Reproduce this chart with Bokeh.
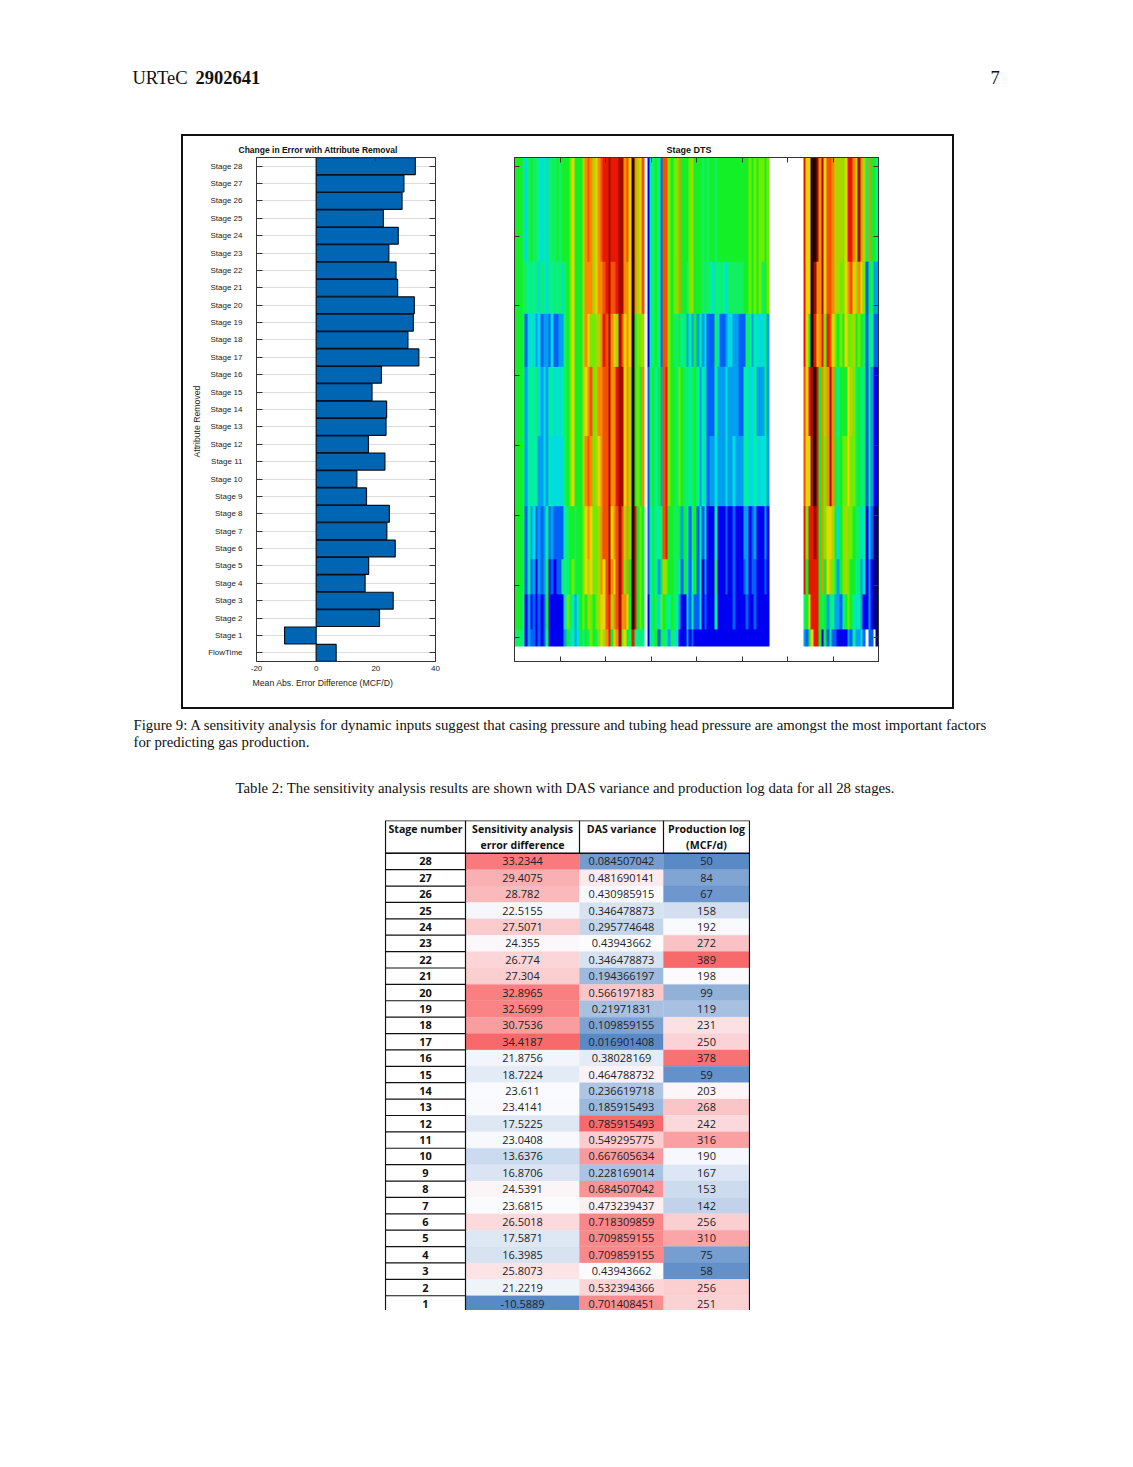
from bokeh.embed import file_html
from bokeh.resources import INLINE
from bokeh.plotting import figure
from bokeh.layouts import column, row
from bokeh.models import (Range1d, FactorRange, LinearAxis, CategoricalAxis, FixedTicker,
                          LinearColorMapper, ColumnDataSource, Title)
from bokeh.core.properties import value
import numpy as np

# ---------- data ----------
stages = list(range(28, 0, -1))
sensitivity = [33.2344, 29.4075, 28.782, 22.5155, 27.5071, 24.355, 26.774, 27.304, 32.8965, 32.5699,
               30.7536, 34.4187, 21.8756, 18.7224, 23.611, 23.4141, 17.5225, 23.0408, 13.6376, 16.8706,
               24.5391, 23.6815, 26.5018, 17.5871, 16.3985, 25.8073, 21.2219, -10.5889]
das_variance = [0.084507042, 0.481690141, 0.430985915, 0.346478873, 0.295774648, 0.43943662, 0.346478873,
                0.194366197, 0.566197183, 0.21971831, 0.109859155, 0.016901408, 0.38028169, 0.464788732,
                0.236619718, 0.185915493, 0.785915493, 0.549295775, 0.667605634, 0.228169014, 0.684507042,
                0.473239437, 0.718309859, 0.709859155, 0.709859155, 0.43943662, 0.532394366, 0.701408451]
production = [50, 84, 67, 158, 192, 272, 389, 198, 99, 119, 231, 250, 378, 59, 203, 268, 242, 316, 190, 167,
              153, 142, 256, 310, 75, 58, 256, 251]
flow_time = 6.7

bar_categories = ["FlowTime"] + [f"Stage {s}" for s in stages[::-1]]
bar_values = [flow_time] + sensitivity[::-1]

# DTS stripes, one letter per depth column (a = coldest ... p = hottest, w = no data)
band_rows = {"A": 6, "B": 3, "C": 3, "D": 4, "E": 4, "F": 3, "G": 2, "H": 2, "I": 1}
band_A = "hhhgeghggf efeggghghh hikhhhjlml jklmnnonnn oolmkpljkm wbfghfcmmi hiilhhhijh hhghghhghh hhhhhhhhhh ihihiihiww wwwwwwwwww wnkkppolok mmljjjiknn ljoljglhhf"
band_B = "hhhggfgfge gfegfgfgeg hikhhhjlll jkllmnommn oollkpljkm wbfghfcmmi hiilhhgijh hhgggfegfg fegggggghh ihihighiww wwwwwwwwww wnkkpollok mmljjiiklm kjlkichgdd"
band_C = "hhhgcefede cddceccddg hikhhhjlki ijjlnmolkj omklkphiij wbfghfcmmi hgghfgdfdh dfdecccgec cdeeddcccg fdfeeegdww wwwwwwwwww wnkhpnklni nmkihihkii jhihgcgfcc"
band_D = "hhhgdfffge dedffefefg hikhhhjklm ijllmmolln ookljphihl wcghfhdmni hhgihggfgh fdfecccfdd deddddccff eefdddgdww wwwwwwwwww wmknopnhlj lolhfhhhkj ighfgcgdbb"
band_E = "hhhgdffffd dedfeeeeeg hikhhhjlml ijklmmolln ookljphihl wcghfhdmni hhgihggfgh fdfecddedd deddedddff eefeeefdww wwwwwwwwww wmkkopnhli lolhghiiki ighfgcgdbb"
band_F = "hhhgcfdecd cdfcdccccf ghhghhiklk iijlmmoklm omjlipnhih wcfhffgmnh hgghdhfcgh cfcebbbfbb bcbbcbbbdd bcdbbbdbww wwwwwwwwww wninnonhli kkjhehijii hggefbecaa"
band_G = "hhhgcfcdbd cdgbcbccgf ghighhikjk iijlkmolkm omilhpnhih wcfhfdhjih hggfchecfh cfbdbbbgbb bcbbcbbbcd bccbbbcbww wwwwwwwwww wnhnnnnhlh kjigdhijih hfgdebdbaa"
band_H = "hhhfbdbcbc bchbbbbbbe igfdfhihji hijkkmnjlm ollkhpnhih wbfhgeihgf hgfdbbecfc cebcbbbfbb bbbbcbbbbc bbcbbbbbww wwwwwwwwww wghknnnhgh dgfddcfhih fefdbbdbaa"
band_I = "gggfbdccbc bcgbbbbbbd hefdehfhgi hgikjlnhkl oikhgngfgf wbfghchgfd gfebbbdbcb bbbbbbbbbb bbbbbbbbbb bbbbbbbbww wwwwwwwwww wdchknnhbh cfccbbbbdc fddecwccwa"
bands = {"A": band_A, "B": band_B, "C": band_C, "D": band_D, "E": band_E, "F": band_F, "G": band_G, "H": band_H, "I": band_I}
jet = ["#00007f", "#0000f0", "#0060f8", "#00a0f0", "#00dce0", "#00f0a0", "#10f060", "#14f028",
       "#70ec00", "#b0d400", "#ecd400", "#f88c00", "#f45000", "#e81800", "#a00c00", "#280000"]
levels = "abcdefghijklmnop"

# ---------- helpers ----------
def scale_colour(values):
    """Excel's blue-white-red three colour scale, midpoint at the median."""
    lo, mid, hi = min(values), float(np.median(values)), max(values)
    c_lo, c_mid, c_hi = (0x5A, 0x8A, 0xC6), (0xFC, 0xFC, 0xFF), (0xF8, 0x69, 0x6B)
    out = []
    for v in values:
        if v < mid:
            t, a, b = (v - lo) / (mid - lo), c_lo, c_mid
        else:
            t, a, b = (v - mid) / (hi - mid), c_mid, c_hi
        out.append("#%02x%02x%02x" % tuple(int(round(a[i] + (b[i] - a[i]) * t)) for i in range(3)))
    return out

SERIF = value("Liberation Serif")
OPEN = value("Open Sans")

def text_strip(top, bottom):
    """A blank figure of the full text width whose data coordinates are page pixels."""
    f = figure(width=1117, height=bottom - top, x_range=Range1d(8, 1125), y_range=Range1d(bottom, top),
               output_backend="svg", toolbar_location=None, min_border=0, outline_line_color=None,
               x_axis_location=None, y_axis_location=None)
    f.grid.visible = False
    return f

def txt(f, x, y, s, size, style="normal"):
    f.text(x=[x], y=[y], text=[s], text_font=SERIF, text_font_size=f"{size}px", text_font_style=style,
           text_align="left", text_baseline="middle", text_color="#111111")

def note(f, place, s, offset, size, standoff=0, style="normal", color="#222222"):
    f.add_layout(Title(text=s, align="left", offset=offset, standoff=standoff, text_font="Liberation Sans",
                       text_font_size=f"{size}px", text_font_style=style, text_color=color), place)

# ---------- page head ----------
head = text_strip(8, 134)
txt(head, 132, 77, "URTeC", 18.5)
txt(head, 195, 77, "2902641", 18.5, style="bold")
txt(head, 990, 77, "7", 18.5)

# ---------- bar chart ----------
bar = figure(width=319, height=571, x_range=Range1d(-20, 40),
             y_range=FactorRange(*bar_categories, range_padding=0, factor_padding=0),
             output_backend="svg", toolbar_location=None, min_border_left=73, min_border_right=67,
             min_border_top=21, min_border_bottom=45, outline_line_color="#333333")
bar.xgrid.visible = False
bar.ygrid.grid_line_color = "#dddddd"
bar.hbar(y=bar_categories, right=bar_values, left=0, height=0.97, fill_color="#0066b3",
         line_color="#05101c", line_width=1.2)
bar.xaxis.ticker = FixedTicker(ticks=[-20, 0, 20, 40])
bar.xaxis.major_label_overrides = {-20: "-20"}
bar.xaxis.major_tick_in = 0
bar.xaxis.major_tick_out = 0
bar.xaxis.minor_tick_line_color = None
bar.xaxis.axis_line_color = "#333333"
bar.xaxis.major_label_text_font = "Liberation Sans"
bar.xaxis.major_label_text_font_size = "8px"
bar.xaxis.major_label_text_color = "#222222"
bar.xaxis.major_label_standoff = 4
bar.yaxis.major_tick_in = 6
bar.yaxis.major_tick_out = 0
bar.yaxis.axis_line_color = "#333333"
bar.yaxis.major_tick_line_color = "#333333"
bar.yaxis.major_label_text_font = "Liberation Sans"
bar.yaxis.major_label_text_font_size = "8px"
bar.yaxis.major_label_text_color = "#222222"
bar.yaxis.major_label_standoff = 14
right_axis = CategoricalAxis(major_tick_in=6, major_tick_out=0, major_label_text_font_size="1px",
                             major_label_text_color=None, major_label_standoff=0, axis_line_color="#333333",
                             major_tick_line_color="#333333")
bar.add_layout(right_axis, "right")
top_axis = LinearAxis(ticker=FixedTicker(ticks=[20]), major_tick_in=4, major_tick_out=0,
                      major_label_text_font_size="1px", major_label_text_color=None, major_label_standoff=0,
                      axis_line_color="#333333", minor_tick_line_color=None, major_tick_line_color="#333333")
bar.add_layout(top_axis, "above")
note(bar, "above", "Change in Error with Attribute Removal", -18, 8.5, standoff=6, style="bold", color="#111111")
note(bar, "below", "Mean Abs. Error Difference (MCF/D)", -4, 8.7, standoff=5)
note(bar, "left", "Attribute Removed", 204, 8.7, standoff=7)

# ---------- DTS stage map ----------
dts_rows = []
for name, n in band_rows.items():
    row_values = [np.nan if ch == "w" else float(levels.index(ch)) for ch in bands[name].replace(" ", "")]
    assert len(row_values) == 140, name
    dts_rows += [row_values] * n
dts = np.array(dts_rows)[::-1]
heat = figure(width=450, height=571, x_range=Range1d(0, 140), y_range=Range1d(-0.36, 28.5),
              output_backend="svg", toolbar_location=None, min_border_left=12, min_border_right=74,
              min_border_top=21, min_border_bottom=46, outline_line_color="#333333",
              x_axis_location=None, y_axis_location=None)
heat.grid.visible = False
mapper = LinearColorMapper(palette=jet, low=0, high=15.999, nan_color="rgba(0,0,0,0)")
heat.image(image=[dts], x=0, y=0.5, dw=140, dh=28, color_mapper=mapper)
x_ticks = [17.5 * i for i in range(9)]
y_ticks = [1, 4, 8, 12, 16, 20, 24, 28]
for place, ticks in (("below", x_ticks), ("above", x_ticks), ("left", y_ticks), ("right", y_ticks)):
    ax = LinearAxis(ticker=FixedTicker(ticks=ticks), major_tick_in=5, major_tick_out=0,
                    major_label_text_font_size="1px", major_label_text_color=None, major_label_standoff=0,
                    minor_tick_line_color=None, axis_line_color="#333333", major_tick_line_color="#333333")
    heat.add_layout(ax, place)
note(heat, "above", "Stage DTS", 152, 9, standoff=6, style="bold", color="#111111")

panel = row(bar, heat, margin=(0, 0, 0, 173), styles={"border": "2px solid #111111"})

# ---------- captions ----------
caps = text_strip(709, 820)
txt(caps, 133, 724, "Figure 9: A sensitivity analysis for dynamic inputs suggest that casing pressure and tubing head pressure are amongst the most important factors", 14.8)
txt(caps, 133, 741, "for predicting gas production.", 14.8)
txt(caps, 235, 787, "Table 2: The sensitivity analysis results are shown with DAS variance and production log data for all 28 stages.", 14.8)

# ---------- table ----------
col_edges = [0, 80, 194, 278, 364]
col_centres = [(a + b) / 2 for a, b in zip(col_edges, col_edges[1:])]
columns = [sensitivity, das_variance, production]
table = figure(width=366, height=490, x_range=Range1d(-1, 365), y_range=Range1d(0.6, 30.5),
               output_backend="svg", toolbar_location=None, min_border=0, outline_line_color=None,
               x_axis_location=None, y_axis_location=None, margin=(0, 0, 0, 376))
table.grid.visible = False
for i, vals in enumerate(columns):
    src = ColumnDataSource(dict(stage=stages, fill=scale_colour(vals), txt=[str(v) for v in vals]))
    table.rect(x=col_centres[i + 1], y="stage", width=col_edges[i + 2] - col_edges[i + 1], height=1,
               fill_color="fill", line_color="fill", line_width=0.3, source=src)
    table.text(x=col_centres[i + 1], y="stage", text="txt", source=src, text_font=OPEN, text_font_size="11px",
               text_align="center", text_baseline="middle", text_color="#222222")
table.text(x=col_centres[0], y=stages, text=[str(s) for s in stages], text_font=OPEN, text_font_size="11px",
           text_font_style="bold", text_align="center", text_baseline="middle", text_color="#111111")
headers = [("Stage number", ""), ("Sensitivity analysis", "error difference"), ("DAS variance", ""),
           ("Production log", "(MCF/d)")]
for c, (a, b) in zip(col_centres, headers):
    for y, s in ((29.98, a), (29.0, b)):
        if s:
            table.text(x=[c], y=[y], text=[s], text_font=OPEN, text_font_size="10.6px", text_font_style="bold",
                       text_align="center", text_baseline="middle", text_color="#111111")
# rules
rule_levels = [s + 0.5 for s in range(0, 29)]
table.segment(x0=[0] * 29, x1=[col_edges[1]] * 29, y0=rule_levels, y1=rule_levels,
              line_color="#111111", line_width=1.2)
table.segment(x0=[0, 0], x1=[364, 364], y0=[30.5, 28.5], y1=[30.5, 28.5], line_color="#111111", line_width=1.5)
table.segment(x0=col_edges, x1=col_edges, y0=[0.6, 0.6, 28.5, 28.5, 0.6], y1=[30.5] * 5,
              line_color="#111111", line_width=1.2)

out = column(head, panel, caps, table, margin=(8, 0, 0, 8))
open("out.html", "w").write(file_html(out, INLINE))
